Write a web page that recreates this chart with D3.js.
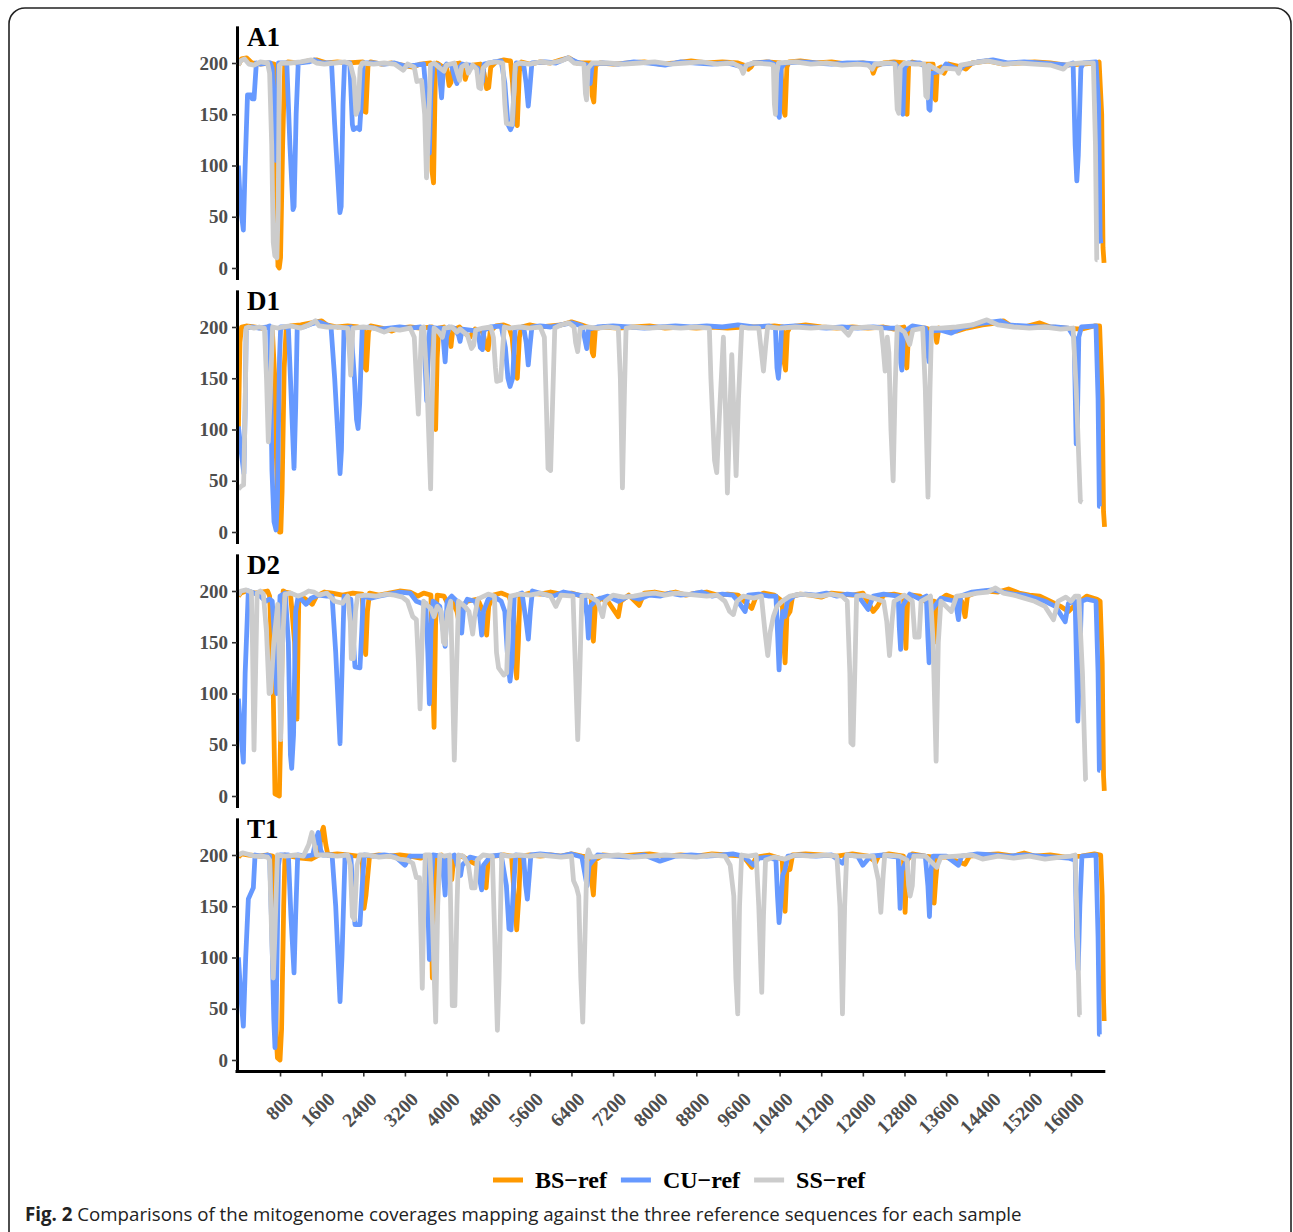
<!DOCTYPE html>
<html><head><meta charset="utf-8">
<script src="https://cdn.jsdelivr.net/npm/d3@7"></script>
<style>
html,body{margin:0;padding:0;background:#fff;}
svg{display:block;}
</style></head>
<body>
<svg id="chart" width="1293" height="1232"></svg>
<script>
// ---------------- DATA (position in bp, coverage) ----------------
const samples = ["A1","D1","D2","T1"];
const seriesNames = ["BS\u2212ref","CU\u2212ref","SS\u2212ref"];
const seriesColors = ["#FF9900","#6699FF","#CCCCCC"];
const xTicks = [800,1600,2400,3200,4000,4800,5600,6400,7200,8000,8800,9600,10400,11200,12000,12800,13600,14400,15200,16000];
const yTicks = [0,50,100,150,200];

const A1_BS = [[0,198],[60,204],[160,205],[260,200],[420,199],[600,200],[690,199],[715,105],[760,2],[785,0],[810,10],[850,120],[890,198],[950,201],[1150,200],[1350,202],[1500,203],[1700,200],[1900,201],[2100,200],[2390,201],[2415,153],[2450,152],[2490,197],[2540,201],[2750,199],[2950,200],[3150,198],[3350,196],[3500,199],[3690,200],[3720,95],[3750,83],[3785,190],[3815,200],[3900,197],[4000,195],[4050,178],[4085,181],[4120,199],[4250,200],[4330,192],[4360,184],[4400,191],[4500,198],[4650,199],[4720,190],[4770,175],[4810,176],[4850,196],[4950,201],[5100,203],[5230,202],[5270,180],[5310,145],[5360,139],[5400,192],[5440,201],[5600,199],[5800,201],[6000,200],[6200,203],[6350,205],[6500,200],[6770,200],[6800,168],[6830,162],[6865,198],[6950,200],[7200,199],[7500,200],[7800,201],[8100,199],[8400,200],[8700,202],[9000,200],[9300,201],[9600,200],[9760,197],[9800,194],[9850,196],[9900,200],[10150,201],[10420,200],[10470,155],[10505,149],[10540,196],[10580,201],[10800,202],[11100,200],[11400,201],[11700,199],[12000,200],[12150,199],[12200,190],[12250,197],[12400,200],[12600,201],[12800,200],[12820,155],[12850,150],[12880,198],[12950,201],[13100,199],[13350,199],[13375,166],[13400,164],[13430,194],[13500,196],[13560,190],[13650,199],[13900,196],[13980,194],[14100,200],[14400,202],[14700,199],[15000,200],[15300,201],[15600,200],[15900,198],[16200,199],[16480,200],[16540,201],[16590,150],[16615,20],[16635,5]];
const A1_CU = [[0,100],[40,60],[95,37],[130,100],[175,169],[250,169],[265,165],[300,165],[345,200],[420,199],[560,200],[610,200],[650,195],[690,120],[715,105],[735,150],[770,200],[930,200],[990,120],[1050,57],[1070,60],[1110,150],[1150,200],[1350,201],[1455,203],[1600,200],[1790,200],[1850,140],[1950,54],[1975,60],[2010,160],[2040,200],[2140,200],[2190,140],[2210,135],[2280,137],[2330,135],[2360,160],[2400,200],[2600,200],[2800,199],[3000,200],[3200,197],[3400,198],[3560,199],[3640,150],[3670,112],[3700,170],[3740,199],[3850,198],[3880,180],[3905,166],[3940,195],[4000,199],[4100,197],[4160,185],[4200,180],[4240,195],[4300,199],[4450,198],[4600,195],[4650,178],[4690,182],[4720,199],[4900,201],[5050,202],[5120,180],[5180,140],[5230,135],[5270,140],[5300,185],[5340,200],[5480,199],[5530,180],[5570,158],[5600,175],[5640,200],[5900,201],[6100,200],[6330,205],[6500,201],[6700,198],[6760,180],[6800,199],[7000,200],[7300,199],[7600,201],[7900,200],[8200,198],[8500,201],[8800,200],[9100,199],[9400,200],[9700,196],[9900,200],[10200,201],[10330,198],[10370,150],[10395,147],[10430,195],[10500,200],[10800,201],[11100,200],[11400,199],[11700,200],[12000,200],[12300,199],[12600,200],[12700,195],[12740,155],[12770,150],[12800,195],[12870,200],[13100,200],[13230,195],[13270,155],[13290,154],[13320,190],[13500,192],[13600,199],[13850,193],[13950,198],[14200,201],[14500,203],[14800,200],[15100,201],[15400,200],[15700,199],[15950,198],[16040,200],[16080,120],[16112,85],[16140,110],[16190,195],[16240,200],[16480,201],[16530,160],[16560,30],[16575,24]];
const A1_SS = [[0,198],[40,202],[120,204],[200,199],[300,198],[420,201],[560,200],[600,190],[640,120],[670,25],[700,12],[740,10],[765,60],[787,198],[830,200],[1000,200],[1200,201],[1400,203],[1500,200],[1650,199],[1850,200],[2050,201],[2150,199],[2220,185],[2260,150],[2300,155],[2340,195],[2380,200],[2600,199],[2800,200],[3000,199],[3170,193],[3250,199],[3380,196],[3430,182],[3520,183],[3580,150],[3615,88],[3650,130],[3690,198],[3760,200],[3850,196],[3950,192],[4000,198],[4150,200],[4220,188],[4250,183],[4290,196],[4380,199],[4420,190],[4500,198],[4580,194],[4620,176],[4660,175],[4700,195],[4800,200],[4950,201],[5080,200],[5120,160],[5150,141],[5260,140],[5300,175],[5320,198],[5400,200],[5600,199],[5800,201],[6000,200],[6200,202],[6340,205],[6450,200],[6640,199],[6670,170],[6690,164],[6720,195],[6800,200],[7100,200],[7400,199],[7700,200],[8000,201],[8300,199],[8600,200],[8900,201],[9200,199],[9500,200],[9650,196],[9700,190],[9760,198],[9900,200],[10200,199],[10280,198],[10300,160],[10320,150],[10345,190],[10380,200],[10700,201],[11000,199],[11300,200],[11600,198],[11900,199],[12100,198],[12180,194],[12230,199],[12500,200],[12620,199],[12660,155],[12690,151],[12720,196],[12800,200],[13000,199],[13180,199],[13210,168],[13240,166],[13270,198],[13500,191],[13560,195],[13800,194],[13840,190],[13880,198],[14100,200],[14400,202],[14700,199],[15000,200],[15300,199],[15600,198],[15855,194],[15950,199],[16200,200],[16430,200],[16470,120],[16495,8],[16510,8]];

const D1_BS = [[0,100],[30,185],[60,200],[150,201],[300,200],[450,199],[560,200],[650,199],[700,150],[725,83],[760,20],[790,0],[815,0],[840,40],[880,160],[920,200],[1000,201],[1200,202],[1400,204],[1600,206],[1700,202],[1900,200],[2100,201],[2300,200],[2410,199],[2435,160],[2460,158],[2500,195],[2540,201],[2750,199],[2950,196],[3100,199],[3300,200],[3500,199],[3720,200],[3760,140],[3790,100],[3820,170],[3850,199],[3950,200],[4050,190],[4085,181],[4120,197],[4250,200],[4350,194],[4450,190],[4550,198],[4700,195],[4760,180],[4800,178],[4840,196],[4950,201],[5100,202],[5200,200],[5260,190],[5320,155],[5360,150],[5400,190],[5440,200],[5600,202],[5800,200],[6000,201],[6200,202],[6400,205],[6600,202],[6760,199],[6800,175],[6825,172],[6860,198],[7000,200],[7300,199],[7600,200],[7900,201],[8200,199],[8500,200],[8800,199],[9100,200],[9400,199],[9700,200],[10000,200],[10300,201],[10460,200],[10490,165],[10515,158],[10550,195],[10600,200],[10900,202],[11200,200],[11500,199],[11800,200],[12100,199],[12400,200],[12600,198],[12790,200],[12820,168],[12845,160],[12880,196],[12950,200],[13200,199],[13380,196],[13420,185],[13460,199],[13650,197],[13800,196],[14000,199],[14300,202],[14600,204],[14700,206],[14850,201],[15100,200],[15400,204],[15600,200],[15900,199],[16200,198],[16450,201],[16550,201],[16600,130],[16625,20],[16645,5]];
const D1_CU = [[0,103],[50,80],[105,57],[130,120],[150,199],[250,200],[400,199],[560,200],[600,201],[620,150],[645,60],[684,10],[723,2],[750,30],[790,170],[813,200],[900,200],[960,199],[1000,150],[1069,62],[1100,120],[1130,199],[1250,200],[1400,203],[1550,205],[1700,202],[1780,200],[1850,150],[1953,57],[1980,80],[2030,199],[2160,200],[2230,150],[2270,110],[2300,101],[2330,125],[2380,199],[2500,200],[2700,198],[2900,199],[3100,200],[3300,199],[3500,200],[3560,199],[3600,150],[3619,128],[3650,180],[3680,200],[3800,199],[3920,199],[3950,180],[3973,166],[4000,190],[4050,200],[4150,199],[4230,192],[4260,186],[4300,198],[4450,197],[4600,196],[4650,180],[4690,178],[4720,197],[4850,200],[5050,201],[5130,180],[5180,150],[5220,142],[5270,150],[5320,199],[5480,200],[5530,185],[5570,163],[5600,180],[5640,200],[5800,201],[6000,200],[6200,202],[6400,204],[6600,201],[6650,190],[6694,179],[6730,198],[6900,200],[7200,201],[7500,200],[7800,199],[8100,200],[8400,201],[8700,200],[9000,201],[9300,200],[9600,202],[9900,200],[10200,201],[10320,199],[10350,160],[10377,150],[10410,170],[10440,200],[10700,201],[11000,200],[11300,199],[11600,200],[11900,199],[12200,200],[12500,199],[12700,199],[12730,165],[12750,158],[12780,195],[12950,201],[13200,199],[13250,175],[13270,166],[13300,196],[13500,197],[13700,194],[13900,199],[14200,203],[14500,205],[14650,206],[14800,202],[15100,201],[15400,200],[15700,200],[15950,199],[16060,190],[16100,86],[16120,100],[16150,190],[16200,200],[16480,201],[16520,130],[16545,25],[16560,25]];
const D1_SS = [[0,42],[60,45],[100,46],[130,120],[150,199],[200,200],[300,199],[400,200],[500,199],[540,150],[575,88],[610,130],[657,200],[750,199],[850,200],[1000,201],[1200,199],[1350,202],[1480,206],[1550,201],[1700,200],[1900,200],[2100,199],[2140,170],[2158,153],[2180,175],[2200,199],[2400,200],[2600,199],[2800,195],[2950,198],[3100,197],[3300,199],[3380,190],[3420,150],[3458,115],[3490,160],[3520,199],[3560,200],[3620,150],[3694,42],[3720,120],[3760,199],[3850,195],[3920,190],[3960,199],[4100,200],[4200,195],[4260,198],[4400,192],[4480,179],[4520,182],[4560,197],[4700,199],[4850,200],[4900,190],[4940,160],[4964,147],[5040,148],[5080,180],[5110,200],[5200,199],[5400,200],[5600,199],[5800,200],[5880,190],[5920,120],[5950,62],[6000,60],[6040,130],[6080,199],[6200,202],[6350,204],[6450,200],[6480,185],[6520,176],[6570,199],[6700,200],[6900,199],[7100,200],[7300,199],[7340,150],[7380,43],[7420,140],[7450,199],[7600,200],[7900,199],[8200,200],[8500,199],[8800,200],[9050,199],[9080,150],[9150,70],[9192,58],[9240,110],[9320,190],[9360,120],[9397,38],[9440,110],[9481,173],[9520,120],[9564,55],[9610,130],[9673,200],[9800,199],[10000,199],[10040,180],[10090,157],[10130,180],[10170,200],[10400,199],[10700,200],[11000,199],[11300,200],[11600,199],[11724,192],[11800,199],[12100,200],[12350,199],[12390,180],[12428,157],[12470,190],[12500,175],[12540,100],[12582,50],[12620,140],[12660,200],[12800,195],[12900,183],[12960,197],[13150,199],[13200,140],[13252,34],[13290,140],[13320,199],[13500,199],[13800,200],[14100,202],[14384,207],[14600,202],[14900,200],[15200,199],[15500,200],[15800,198],[16040,199],[16100,140],[16180,30],[16220,29]];

const D2_BS = [[0,195],[50,198],[150,200],[300,198],[450,199],[560,200],[600,195],[640,140],[670,100],[703,2],[787,0],[810,55],[860,200],[900,199],[1000,198],[1080,150],[1125,75],[1160,190],[1200,195],[1350,190],[1420,187],[1500,195],[1650,199],[1800,198],[2000,196],[2200,198],[2380,197],[2420,150],[2446,138],[2480,180],[2520,198],[2700,196],[2900,198],[3100,200],[3300,199],[3450,195],[3560,198],[3700,196],[3730,120],[3760,67],[3790,170],[3820,196],[3950,195],[4050,185],[4100,190],[4200,180],[4260,164],[4300,185],[4400,190],[4600,192],[4700,180],[4771,157],[4810,185],[4900,196],[5050,198],[5200,195],[5290,180],[5320,130],[5348,115],[5380,150],[5410,195],[5600,198],[5800,197],[6000,199],[6200,197],[6400,198],[6600,195],[6780,195],[6800,160],[6822,151],[6860,185],[6950,193],[7100,190],[7300,175],[7350,190],[7500,196],[7700,186],[7800,198],[8000,199],[8200,197],[8400,199],[8600,196],[8800,198],[9000,199],[9200,196],[9400,197],[9600,196],[9865,183],[9950,195],[10100,198],[10300,196],[10450,190],[10480,150],[10506,130],[10540,175],[10600,180],[10650,195],[10800,197],[11000,196],[11200,194],[11400,198],[11600,197],[11800,196],[12000,198],[12200,180],[12280,185],[12400,196],[12600,197],[12780,195],[12810,160],[12828,144],[12860,190],[12950,196],[13100,195],[13200,190],[13370,190],[13400,160],[13420,150],[13450,190],[13600,196],[13900,190],[13965,175],[14010,195],[14200,199],[14400,200],[14600,199],[14800,202],[15000,198],[15200,196],[15400,195],[15600,190],[15800,185],[15950,180],[16050,185],[16300,195],[16500,192],[16560,190],[16600,130],[16625,20],[16640,5]];
const D2_CU = [[0,95],[50,60],[95,33],[130,120],[191,200],[300,198],[400,196],[520,190],[600,192],[650,190],[700,150],[736,100],[770,150],[800,195],[900,198],[960,150],[1000,40],[1024,27],[1060,60],[1100,180],[1150,195],[1300,187],[1400,193],[1550,196],[1700,195],[1800,195],[1870,140],[1953,51],[1990,120],[2030,195],[2160,192],[2200,160],[2240,126],[2336,125],[2370,160],[2400,195],[2550,193],[2700,195],[2900,197],[3100,199],[3300,198],[3420,190],[3520,188],[3600,188],[3640,140],[3670,90],[3700,160],[3740,190],[3870,185],[3940,160],[3973,146],[4010,190],[4100,195],[4200,190],[4260,175],[4291,159],[4330,185],[4400,192],[4550,190],[4640,175],[4675,157],[4710,180],[4800,192],[4900,195],[5050,190],[5120,180],[5180,130],[5220,112],[5260,130],[5300,195],[5450,198],[5530,170],[5572,153],[5610,180],[5650,200],[5850,197],[6050,195],[6250,199],[6450,197],[6650,195],[6700,175],[6726,154],[6760,185],[6900,192],[7100,195],[7300,190],[7500,195],[7700,192],[7900,196],[8100,195],[8300,198],[8500,196],[8700,197],[8900,199],[9100,195],[9300,197],[9500,196],[9600,190],[9738,180],[9800,196],[10000,197],[10200,195],[10330,195],[10360,160],[10390,123],[10420,160],[10460,180],[10500,175],[10550,190],[10700,196],[10900,197],[11100,196],[11300,198],[11500,195],[11700,197],[11900,196],[12100,182],[12200,195],[12400,197],[12680,195],[12700,165],[12726,143],[12760,185],[12900,197],[13100,192],[13220,195],[13250,155],[13273,130],[13300,180],[13500,193],[13780,190],[13837,172],[13880,195],[14100,199],[14300,200],[14500,201],[14700,199],[14900,197],[15100,196],[15300,193],[15500,190],[15700,185],[15888,170],[15950,188],[16080,190],[16110,120],[16131,73],[16160,120],[16200,190],[16300,192],[16480,190],[16520,120],[16545,25],[16560,25]];
const D2_SS = [[0,196],[50,200],[150,201],[250,199],[270,150],[300,45],[330,120],[360,198],[420,200],[480,197],[540,160],[590,100],[620,101],[680,150],[755,187],[790,120],[813,55],[850,150],[895,197],[1000,198],[1150,195],[1250,197],[1350,200],[1450,199],[1550,196],[1700,198],[1850,190],[2000,188],[2100,195],[2150,170],[2170,134],[2210,134],[2250,180],[2290,195],[2450,196],[2650,195],[2850,197],[3000,196],[3150,194],[3250,190],[3350,175],[3420,172],[3460,130],[3491,85],[3530,150],[3560,190],[3650,185],[3700,183],[3760,175],[3820,185],[3900,180],[3940,150],[3973,148],[4020,180],[4080,190],[4110,120],[4149,35],[4190,120],[4230,190],[4350,185],[4430,180],[4480,165],[4502,158],[4540,175],[4600,192],[4800,197],[4920,195],[4960,140],[5000,125],[5100,118],[5156,120],[5190,170],[5230,195],[5400,197],[5600,196],[5800,198],[6000,195],[6100,185],[6200,196],[6430,195],[6480,120],[6521,55],[6560,120],[6600,195],[6700,196],[6900,190],[7000,175],[7050,190],[7200,196],[7400,194],[7600,195],[7800,197],[8000,198],[8200,196],[8400,198],[8600,197],[8800,196],[9000,195],[9200,196],[9350,190],[9440,180],[9512,177],[9580,190],[9700,195],[9900,193],[10050,195],[10120,160],[10173,137],[10220,160],[10280,175],[10350,185],[10450,190],[10600,195],[10800,197],[11000,196],[11200,195],[11400,197],[11600,195],[11700,190],[11750,120],[11770,52],[11810,50],[11850,130],[11880,195],[12000,196],[12200,193],[12400,190],[12460,170],[12512,137],[12560,170],[12600,190],[12800,196],[12950,190],[13000,155],[13080,155],[13120,190],[13300,195],[13350,150],[13408,34],[13450,150],[13500,190],[13700,180],[13800,195],[14000,196],[14200,198],[14400,199],[14550,203],[14700,198],[14900,196],[15100,193],[15300,190],[15500,185],[15664,172],[15750,190],[15900,194],[16000,190],[16080,195],[16150,195],[16220,120],[16280,16],[16300,15]];

const T1_BS = [[0,198],[60,201],[200,200],[400,199],[560,200],[660,199],[700,150],[730,20],[750,2],[800,0],[830,30],[870,150],[895,200],[1000,199],[1200,197],[1400,196],[1550,200],[1590,220],[1634,227],[1680,210],[1720,200],[1900,201],[2100,200],[2300,199],[2380,196],[2414,148],[2450,160],[2520,199],[2700,200],[2900,199],[3100,200],[3300,199],[3500,197],[3650,199],[3700,160],[3727,80],[3760,150],[3790,199],[3900,200],[4050,190],[4100,176],[4140,198],[4300,199],[4450,194],[4600,190],[4700,170],[4760,168],[4800,195],[4900,199],[5100,200],[5250,199],[5300,160],[5348,127],[5390,160],[5420,199],[5600,200],[5800,199],[6000,200],[6200,199],[6400,201],[6600,199],[6780,198],[6800,170],[6822,161],[6860,195],[7000,200],[7300,199],[7600,200],[7900,201],[8200,199],[8500,200],[8800,199],[9100,201],[9400,200],[9700,199],[9865,188],[9950,198],[10200,200],[10450,196],[10480,160],[10506,145],[10540,185],[10600,186],[10650,200],[10900,201],[11200,200],[11500,199],[11800,201],[12100,199],[12250,193],[12300,199],[12500,201],[12780,199],[12800,160],[12812,144],[12850,195],[12950,201],[13200,199],[13350,198],[13370,153],[13400,175],[13440,198],[13600,198],[13965,191],[14050,199],[14300,200],[14600,201],[14900,199],[15100,202],[15300,199],[15600,200],[15900,198],[16200,199],[16450,201],[16570,200],[16600,160],[16625,60],[16637,38]];
const T1_CU = [[0,100],[50,60],[95,33],[140,100],[191,157],[260,165],[287,168],[320,200],[450,199],[560,200],[600,199],[640,130],[680,40],[703,12],[730,60],[770,190],[800,200],[960,200],[1010,140],[1069,85],[1100,140],[1140,200],[1300,199],[1430,200],[1490,215],[1535,222],[1580,205],[1620,200],[1800,200],[1870,150],[1953,57],[1990,100],[2050,200],[2160,198],[2210,160],[2240,132],[2336,132],[2380,170],[2420,200],[2600,199],[2800,200],[3000,199],[3200,190],[3300,199],[3500,199],[3600,199],[3640,150],[3670,98],[3700,170],[3740,200],[3900,199],[3950,175],[3973,161],[4000,195],[4150,200],[4270,180],[4300,190],[4450,198],[4600,196],[4640,175],[4675,166],[4710,190],[4850,199],[5050,200],[5150,170],[5200,128],[5240,127],[5290,170],[5330,200],[5480,199],[5520,170],[5553,157],[5590,180],[5620,200],[5800,201],[6000,200],[6200,199],[6400,201],[6600,198],[6700,170],[6740,190],[6900,200],[7200,199],[7500,198],[7800,200],[8100,194],[8400,199],[8700,200],[9000,199],[9300,200],[9500,201],[9700,199],[9900,190],[10000,197],[10200,198],[10330,195],[10360,160],[10390,134],[10420,150],[10460,180],[10500,185],[10560,199],[10800,200],[11100,199],[11400,200],[11608,192],[11700,200],[11900,199],[12000,190],[12150,199],[12400,200],[12680,198],[12700,170],[12716,148],[12750,185],[12900,200],[13200,199],[13250,170],[13280,140],[13310,185],[13350,199],[13600,199],[13837,190],[13900,199],[14200,201],[14500,200],[14800,199],[15100,200],[15400,199],[15700,198],[15950,197],[16080,195],[16110,120],[16138,88],[16170,150],[16210,199],[16480,200],[16520,120],[16545,25],[16560,25]];
const T1_SS = [[0,200],[80,202],[170,201],[300,199],[450,199],[560,198],[600,195],[640,120],[670,80],[700,120],[750,200],[900,199],[1100,200],[1250,199],[1350,210],[1413,222],[1460,210],[1500,200],[1700,200],[1900,199],[2100,200],[2150,190],[2190,140],[2230,137],[2280,190],[2330,200],[2500,200],[2700,198],[2900,199],[3100,196],[3250,195],[3350,192],[3420,178],[3480,178],[3510,120],[3534,70],[3560,140],[3590,200],[3680,200],[3720,150],[3791,37],[3830,150],[3870,200],[3950,199],[4060,200],[4090,120],[4110,53],[4160,53],[4200,150],[4230,200],[4320,199],[4420,190],[4483,168],[4547,168],[4590,195],[4700,200],[4880,199],[4920,130],[4977,29],[5010,80],[5060,200],[5200,199],[5400,200],[5600,199],[5800,200],[6000,199],[6200,198],[6400,199],[6440,175],[6500,168],[6540,160],[6580,80],[6617,37],[6660,120],[6700,199],[6726,205],[6780,198],[7000,199],[7300,200],[7600,198],[7900,199],[8200,200],[8500,199],[8800,198],[9100,200],[9350,199],[9450,190],[9520,160],[9560,80],[9596,45],[9630,150],[9670,200],[9800,199],[9950,200],[10000,150],[10057,66],[10090,140],[10130,195],[10300,198],[10500,196],[10700,200],[11000,199],[11300,200],[11500,199],[11560,150],[11608,45],[11650,150],[11690,200],[11900,199],[12200,199],[12300,175],[12345,144],[12390,180],[12420,200],[12700,199],[12850,195],[12880,170],[12908,160],[12950,170],[12980,199],[13200,199],[13420,188],[13500,198],[13800,199],[14100,200],[14300,196],[14600,199],[14900,197],[15200,199],[15500,196],[15800,198],[16000,199],[16080,200],[16120,130],[16163,44],[16180,44]];

const panelSeries = {
  A1: [A1_BS, A1_CU, A1_SS],
  D1: [D1_BS, D1_CU, D1_SS],
  D2: [D2_BS, D2_CU, D2_SS],
  T1: [T1_BS, T1_CU, T1_SS]
};
const captionBold = "Fig. 2";
const captionText = " Comparisons of the mitogenome coverages mapping against the three reference sequences for each sample";

// ---------------- LAYOUT ----------------
const svg = d3.select("#chart");
const serif = "'Liberation Serif','Times New Roman',serif";
const plotLeft = 238.4, pxPer800 = 41.63;
const xMax = 16640;
const x = d3.scaleLinear().domain([0, xMax]).range([plotLeft, plotLeft + xMax * pxPer800 / 800]);
const zero0 = 268, panelStep = 264, pxPerUnit = 1.025;
const yDomain = [-11.25, 236.25];

// outer rounded frame
svg.append("rect").attr("x", 9).attr("y", 8).attr("width", 1282).attr("height", 1250)
  .attr("rx", 16).attr("fill", "none").attr("stroke", "#222").attr("stroke-width", 1.6);

samples.forEach((s, i) => {
  const zeroY = zero0 + i * panelStep;
  const y = d3.scaleLinear().domain(yDomain)
    .range([zeroY - yDomain[0] * pxPerUnit, zeroY - yDomain[1] * pxPerUnit]);
  const g = svg.append("g");
  const clipId = "clip" + s;
  g.append("clipPath").attr("id", clipId).append("rect")
    .attr("x", 237).attr("y", y.range()[1]).attr("width", 870)
    .attr("height", y.range()[0] - y.range()[1]);
  const line = d3.line().x(d => x(d[0])).y(d => y(d[1]));
  const lg = g.append("g").attr("clip-path", `url(#${clipId})`);
  panelSeries[s].forEach((data, k) => {
    lg.append("path").datum(data).attr("d", line)
      .attr("fill", "none").attr("stroke", seriesColors[k])
      .attr("stroke-width", 4.8).attr("stroke-linejoin", "round").attr("stroke-linecap", "butt");
  });
  // y axis
  const ax = g.append("g").attr("transform", "translate(237,0)")
    .call(d3.axisLeft(y).tickValues(yTicks).tickSize(5).tickSizeOuter(0).tickPadding(4));
  ax.select(".domain").attr("stroke", "#000").attr("stroke-width", 3);
  ax.selectAll(".tick line").attr("stroke", "#333").attr("stroke-width", 1.6);
  ax.selectAll(".tick text").attr("font-family", serif).attr("font-weight", "bold")
    .attr("font-size", 19).attr("fill", "#4D4D4D");
  // panel label
  g.append("text").attr("x", 247).attr("y", zeroY - 222).text(s)
    .attr("font-family", serif).attr("font-weight", "bold").attr("font-size", 27).attr("fill", "#000");

  if (i === samples.length - 1) {
    const bottom = y.range()[0];
    const xa = g.append("g").attr("transform", `translate(0,${bottom})`)
      .call(d3.axisBottom(x).tickValues(xTicks).tickFormat(d3.format("d")).tickSize(5).tickSizeOuter(0));
    xa.select(".domain").remove();
    g.append("line").attr("x1", 235.5).attr("x2", x.range()[1] + 1)
      .attr("y1", bottom).attr("y2", bottom).attr("stroke", "#000").attr("stroke-width", 3);
    xa.selectAll(".tick line").attr("stroke", "#333").attr("stroke-width", 1.6);
    xa.selectAll(".tick text")
      .attr("font-family", serif).attr("font-weight", "bold").attr("font-size", 19.5)
      .attr("fill", "#4D4D4D").attr("text-anchor", "end").attr("dy", null)
      .attr("y", 0).attr("transform", "translate(14,29) rotate(-45)");
  }
});

// legend
const legendY = 1180;
let lx = 493;
seriesNames.forEach((n, k) => {
  svg.append("line").attr("x1", lx).attr("x2", lx + 30).attr("y1", legendY).attr("y2", legendY)
    .attr("stroke", seriesColors[k]).attr("stroke-width", 5);
  const t = svg.append("text").attr("x", lx + 42).attr("y", legendY + 8).text(n)
    .attr("font-family", serif).attr("font-weight", "bold").attr("font-size", 24).attr("fill", "#000");
  lx = lx + 42 + t.node().getComputedTextLength() + 14;
});

// caption
const cap = svg.append("text").attr("x", 25).attr("y", 1221)
  .attr("font-family", "'Open Sans',sans-serif").attr("font-size", 19).attr("fill", "#222");
cap.append("tspan").attr("font-weight", "bold").text(captionBold);
cap.append("tspan").text(captionText);
const cw = cap.node().getBBox().width;
cap.attr("transform", `translate(25,0) scale(${997 / cw},1) translate(-25,0)`);
</script>
</body></html>
